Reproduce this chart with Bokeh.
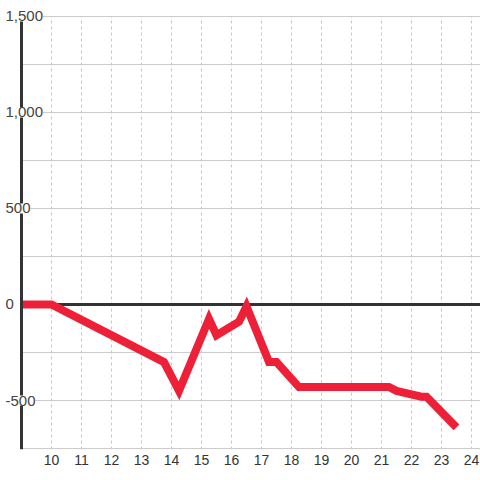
from bokeh.plotting import figure
from bokeh.models import Range1d, FixedTicker
from bokeh.core.properties import value
from bokeh.embed import file_html
from bokeh.resources import INLINE

# data
hours = [9, 10, 13.75, 14.25, 15.25, 15.5, 16.25, 16.5, 17.25, 17.5, 18.25, 21.25, 21.5, 22.33, 22.5, 23.5]
values = [0, 0, -300, -450, -75, -160, -90, -10, -300, -300, -430, -430, -450, -480, -480, -640]
x_ticks = list(range(10, 25))
y_grid = [-750, -500, -250, 250, 500, 750, 1000, 1250, 1500]
y_label_vals = [-500, 0, 500, 1000, 1500]
y_label_txt = ["-500", "0", "500", "1,000", "1,500"]

AXIS_X = 9
X0, X1 = 8.3, 24.3
Y0, Y1 = -755.2, 1583.3
Y_TOP = 1500
FONT = "Liberation Sans"

p = figure(width=480, height=480, x_range=Range1d(X0, X1), y_range=Range1d(Y0, Y1),
           output_backend="svg", toolbar_location=None,
           min_border_left=0, min_border_right=0, min_border_top=0, min_border_bottom=31)
p.outline_line_color = None
p.background_fill_color = "white"
p.yaxis.visible = False
p.xgrid.visible = False
p.ygrid.visible = False

p.xaxis.ticker = FixedTicker(ticks=x_ticks)
p.xaxis.axis_line_color = None
p.xaxis.major_tick_line_color = None
p.xaxis.minor_tick_line_color = None
p.xaxis.major_tick_out = 0
p.xaxis.major_label_standoff = 5
p.xaxis.major_label_text_font = FONT
p.xaxis.major_label_text_font_size = "14px"
p.xaxis.major_label_text_color = "#333333"

# vertical dotted grid
p.segment(x0=x_ticks, y0=[Y0] * len(x_ticks), x1=x_ticks, y1=[Y_TOP] * len(x_ticks),
          line_color="#c8c8c8", line_width=1, line_dash="3 3")
# horizontal grid lines starting at the y axis
p.segment(x0=[AXIS_X] * len(y_grid), y0=y_grid, x1=[X1] * len(y_grid), y1=y_grid,
          line_color="#cccccc", line_width=1)
# zero line
p.segment(x0=[AXIS_X], y0=[0], x1=[X1], y1=[0], line_color="#333333", line_width=3)

p.line(hours, values, line_color="#ee2038", line_width=8, line_join="miter")

# y axis line
p.segment(x0=[AXIS_X], y0=[Y0], x1=[AXIS_X], y1=[Y_TOP], line_color="#333333", line_width=3)

# y tick labels with white background masking axis and grid
p.text(x=[X0] * len(y_label_vals), y=y_label_vals, text=y_label_txt, x_offset=5,
       text_align="left", text_baseline="middle", text_font=value(FONT),
       text_font_size="15px", text_color="#444444",
       background_fill_color="white")

open("out.html", "w").write(file_html(p, INLINE))
